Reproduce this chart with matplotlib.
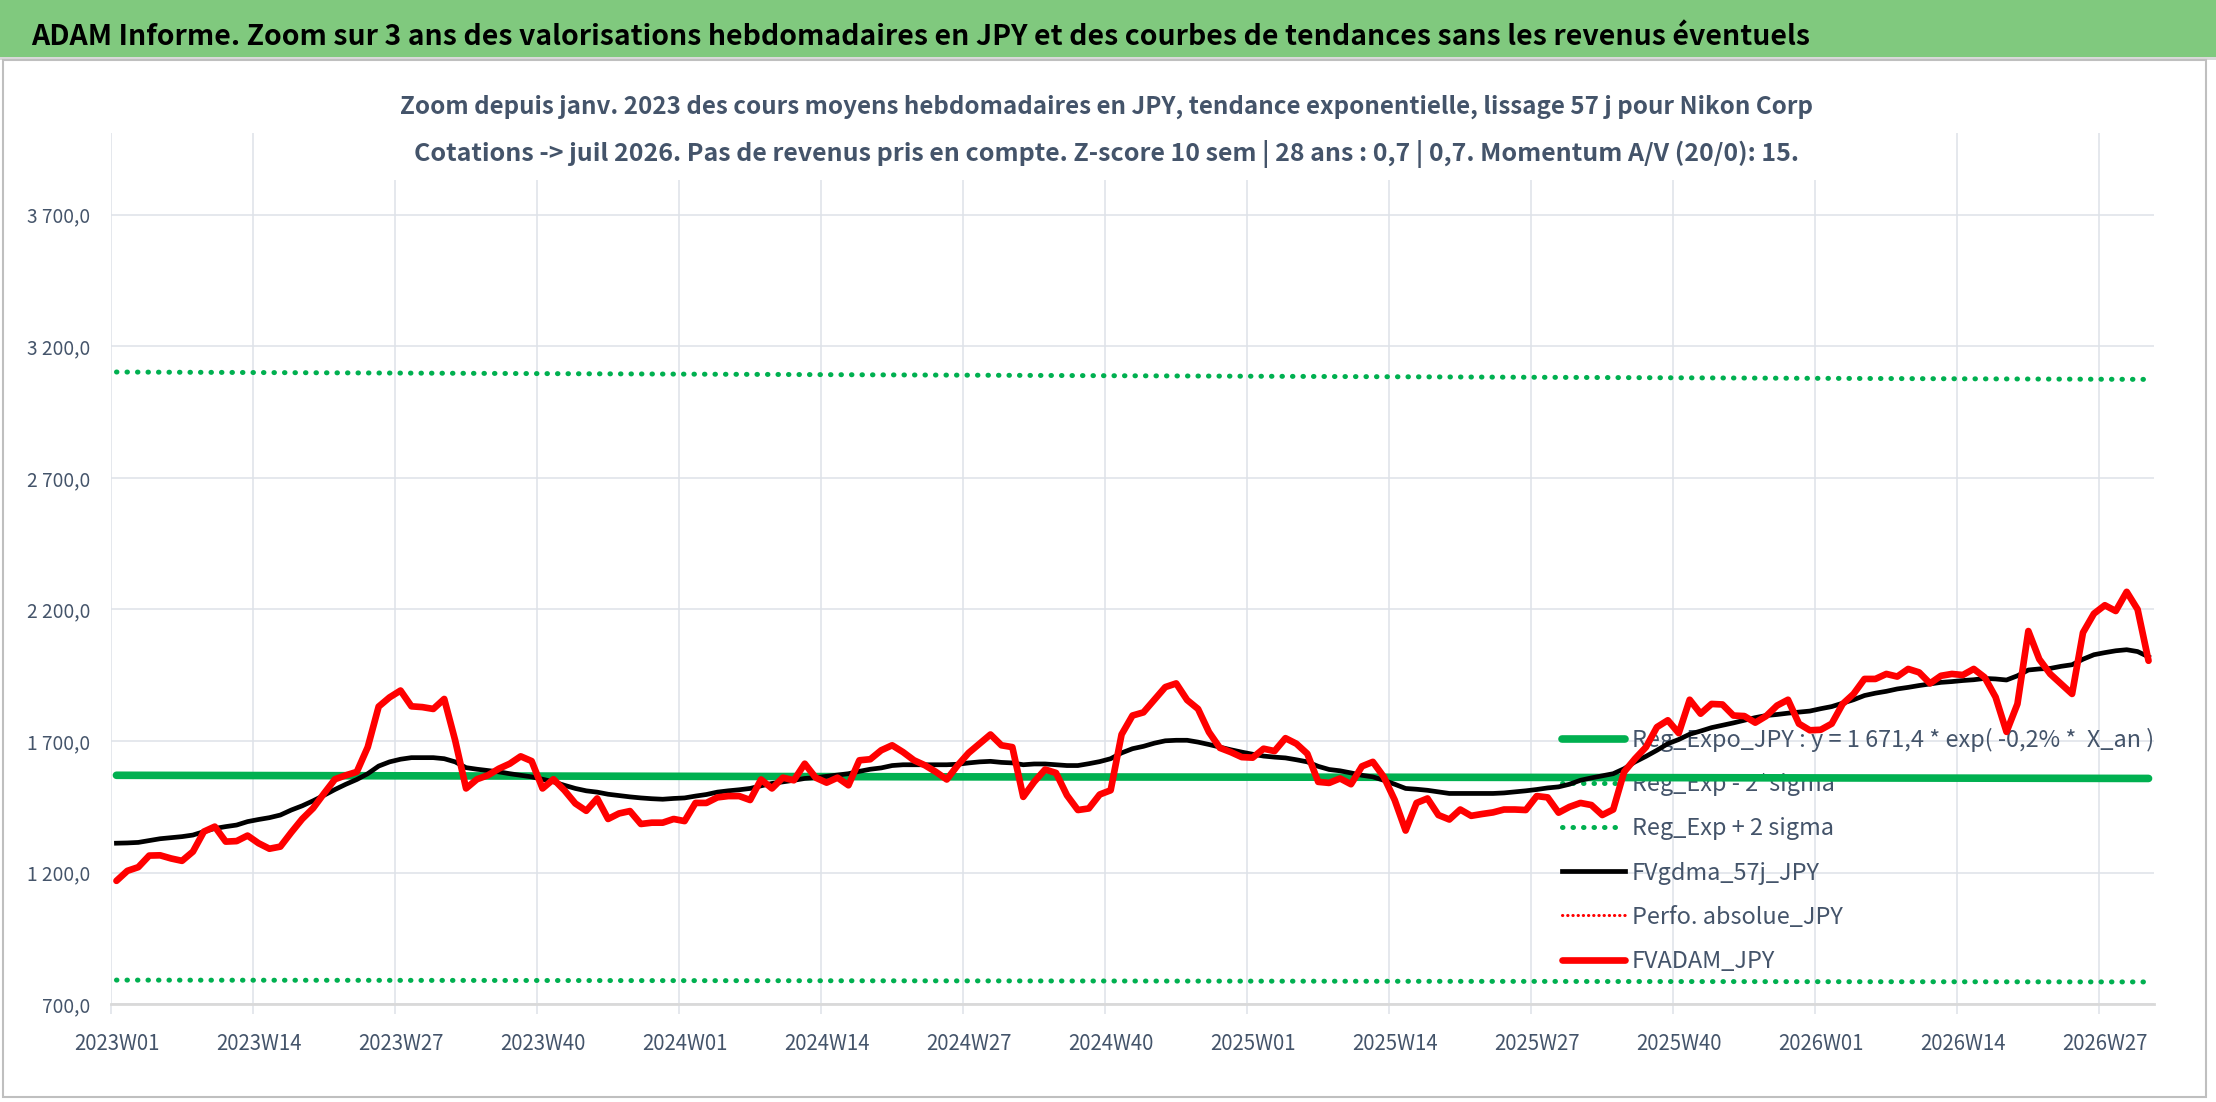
import matplotlib
matplotlib.use("Agg")
import matplotlib.pyplot as plt
from matplotlib.patches import Rectangle
from matplotlib.ticker import FixedLocator, FuncFormatter

# Noto Sans CJK latin glyphs are narrow, close to Calibri
plt.rcParams['font.family'] = ['Noto Sans CJK JP', 'DejaVu Sans']

# weekly categories 2023W01 .. 2026W31
weeks = [f"{y}W{w:02d}" for y in (2023, 2024, 2025) for w in range(1, 53)] + \
        [f"2026W{w:02d}" for w in range(1, 32)]

fvadam = [1169, 1207, 1221, 1265, 1266, 1254, 1245, 1280, 1356, 1375,
          1318, 1320, 1341, 1312, 1291, 1299, 1353, 1404, 1445, 1501,
          1555, 1570, 1583, 1677, 1831, 1866, 1892, 1832, 1829, 1822,
          1860, 1703, 1520, 1555, 1570, 1595, 1614, 1642, 1624, 1520,
          1555, 1513, 1463, 1435, 1482, 1404, 1425, 1434, 1385, 1390,
          1390, 1404, 1396, 1465, 1465, 1486, 1491, 1491, 1476, 1554,
          1520, 1561, 1551, 1614, 1561, 1542, 1561, 1532, 1627, 1631,
          1665, 1684, 1658, 1627, 1608, 1583, 1554, 1608, 1655, 1690,
          1725, 1684, 1677, 1488, 1545, 1592, 1579, 1494, 1438, 1444,
          1497, 1513, 1725, 1797, 1809, 1857, 1905, 1919, 1856, 1822,
          1734, 1674, 1658, 1639, 1637, 1671, 1662, 1711, 1690, 1652,
          1545, 1541, 1558, 1536, 1604, 1621, 1564, 1476, 1360, 1465,
          1482, 1419, 1402, 1440, 1416, 1423, 1429, 1440, 1440, 1438,
          1491, 1486, 1428, 1450, 1465, 1457, 1419, 1440, 1583, 1633,
          1677, 1753, 1779, 1730, 1857, 1804, 1841, 1839, 1797, 1795,
          1770, 1795, 1835, 1857, 1766, 1741, 1743, 1766, 1841, 1879,
          1936, 1936, 1955, 1945, 1974, 1961, 1919, 1948, 1955, 1951,
          1974, 1942, 1867, 1735, 1841, 2118, 2011, 1955, 1917, 1879,
          2112, 2184, 2216, 2194, 2267, 2200, 2005]

fvgdma = [1312, 1313, 1315, 1322, 1329, 1333, 1337, 1343, 1356, 1368,
          1375, 1381, 1394, 1402, 1409, 1419, 1438, 1454, 1473, 1494,
          1516, 1536, 1554, 1576, 1605, 1621, 1631, 1637, 1637, 1637,
          1633, 1621, 1599, 1593, 1588, 1583, 1576, 1570, 1564, 1555,
          1545, 1532, 1520, 1511, 1506, 1498, 1493, 1488, 1484, 1481,
          1479, 1482, 1484, 1491, 1497, 1506, 1511, 1515, 1520, 1530,
          1539, 1545, 1551, 1558, 1561, 1566, 1571, 1576, 1585, 1593,
          1598, 1607, 1610, 1610, 1610, 1610, 1610, 1612, 1617, 1621,
          1623, 1619, 1617, 1610, 1613, 1613, 1610, 1607, 1607, 1614,
          1622, 1633, 1655, 1671, 1680, 1692, 1701, 1703, 1703, 1696,
          1687, 1677, 1667, 1658, 1650, 1643, 1639, 1636, 1629, 1621,
          1604, 1592, 1587, 1579, 1570, 1564, 1551, 1536, 1520, 1517,
          1513, 1507, 1501, 1501, 1501, 1501, 1501, 1503, 1507, 1511,
          1516, 1522, 1526, 1536, 1551, 1560, 1568, 1576, 1595, 1621,
          1642, 1665, 1690, 1706, 1726, 1738, 1751, 1760, 1769, 1779,
          1789, 1797, 1801, 1806, 1810, 1814, 1823, 1831, 1844, 1857,
          1873, 1882, 1889, 1898, 1904, 1911, 1917, 1923, 1926, 1930,
          1933, 1938, 1936, 1932, 1948, 1970, 1974, 1976, 1984, 1990,
          2011, 2028, 2036, 2043, 2047, 2040, 2020]

# regression + bands, read at a few categories
reg_weeks = ["2023W01", "2023W27", "2024W01", "2024W27", "2025W01", "2025W27", "2026W01", "2026W31"]
reg_expo = [1570, 1568, 1566, 1564, 1563, 1562, 1560, 1558]
reg_minus = [792, 791, 790, 789, 788, 787, 786, 785]
reg_plus = [3102, 3098, 3094, 3090, 3086, 3082, 3078, 3074]

tick_labels = ["2023W01", "2023W14", "2023W27", "2023W40", "2024W01", "2024W14", "2024W27",
               "2024W40", "2025W01", "2025W14", "2025W27", "2025W40", "2026W01", "2026W14",
               "2026W27"]
y_ticks = [700, 1200, 1700, 2200, 2700, 3200, 3700]

TXT = '#44546A'
W, H = 2216, 1102
fig = plt.figure(figsize=(W / 100, H / 100), dpi=100)
rend = fig.canvas.get_renderer()


def fit(txt, width_px):
    # scale font so the text has the same width as in the reference
    w = txt.get_window_extent(renderer=rend).width
    txt.set_fontsize(txt.get_fontsize() * width_px / w)


def size_for(s, width_px, **kw):
    t = fig.text(0, 0, s, fontsize=20, **kw)
    fit(t, width_px)
    fs = t.get_fontsize()
    t.remove()
    return fs


# header band
fig.patches.append(Rectangle((0, 1 - 57 / H), 1, 57 / H, transform=fig.transFigure,
                             facecolor='#80C97E', edgecolor='none', zorder=0))
fig.patches.append(Rectangle((0, 1 - 60 / H), 1, 3 / H, transform=fig.transFigure,
                             facecolor='#D9D9D9', edgecolor='none', zorder=0))
fig.patches.append(Rectangle((3 / W, 5 / H), 2203 / W, 1 - 65 / H, transform=fig.transFigure,
                             facecolor='none', edgecolor='#BFBFBF', lw=1.5, zorder=0))
hdr = fig.text(31 / W, 1 - 45 / H,
               "ADAM Informe. Zoom sur 3 ans des valorisations hebdomadaires en JPY et des courbes de tendances sans les revenus éventuels",
               fontsize=24, fontweight='bold', color='black', ha='left', va='baseline')
fit(hdr, 1775)

ax = fig.add_axes([111 / W, 97.7 / H, (2154 - 111) / W, (1004.3 - 133) / H])
ax.set_zorder(1)

idx = {w: i for i, w in enumerate(weeks)}
xr = [idx[w] for w in reg_weeks]
x = list(range(len(fvadam)))

ax.plot(xr, reg_expo, color='#00B050', lw=5.5, solid_capstyle='round', zorder=4,
        label='Reg_Expo_JPY : y = 1 671,4 * exp( -0,2% *  X_an )')
ax.plot(xr, reg_minus, color='#00B050', lw=3.6, ls=(0, (0.1, 2.0)), dash_capstyle='round',
        zorder=4, label='Reg_Exp - 2*sigma')
ax.plot(xr, reg_plus, color='#00B050', lw=3.6, ls=(0, (0.1, 2.0)), dash_capstyle='round',
        zorder=4, label='Reg_Exp + 2 sigma')
ax.plot(x, fvgdma, color='black', lw=3.4, solid_joinstyle='round', zorder=5,
        label='FVgdma_57j_JPY')
ax.plot([], [], color='#FF0000', lw=2.2, ls=(0, (0.1, 1.6)), dash_capstyle='round',
        label='Perfo. absolue_JPY')
ax.plot(x, fvadam, color='#FF0000', lw=4.8, solid_joinstyle='round', solid_capstyle='round',
        zorder=6, label='FVADAM_JPY')

ax.set_xlim(-0.5, len(weeks) - 0.5)
ax.set_ylim(700, 4010)

tick_pos = [idx[t] for t in tick_labels]
ax.xaxis.set_major_locator(FixedLocator(tick_pos))
ax.set_xticklabels(tick_labels)
ax.xaxis.set_minor_locator(FixedLocator([p - 0.5 for p in tick_pos]))
ax.tick_params(axis='x', which='major', length=0, pad=21,
               labelsize=size_for("2023W01", 86), labelcolor=TXT)
ax.tick_params(axis='x', which='minor', length=7, width=1.1, color='#DEE2E8')
ax.grid(axis='x', which='minor', color='#DEE2E8', lw=1.1)

ax.yaxis.set_major_locator(FixedLocator(y_ticks))
ax.yaxis.set_major_formatter(FuncFormatter(lambda v, p: f"{v:,.1f}".replace(',', ' ').replace('.', ',')))
ax.tick_params(axis='y', length=0, pad=15, labelsize=size_for("3 700,0", 63), labelcolor=TXT)
ax.grid(axis='y', color='#DEE2E8', lw=1.1)
ax.set_axisbelow(True)

for s in ['top', 'right', 'left']:
    ax.spines[s].set_visible(False)
ax.spines['bottom'].set_color('#D9D9D9')
ax.spines['bottom'].set_linewidth(2)

leg_fs = size_for('Reg_Expo_JPY : y = 1 671,4 * exp( -0,2% *  X_an )', 522)
leg = ax.legend(loc='upper left', bbox_to_anchor=(1562 / W, 1 - 728 / H),
                bbox_transform=fig.transFigure, frameon=False, fontsize=leg_fs,
                labelcolor=TXT, handlelength=63 / (leg_fs * 100 / 72),
                handletextpad=7 / (leg_fs * 100 / 72),
                labelspacing=0.9, borderpad=0, borderaxespad=0)
leg.set_zorder(3)

# chart title over the plot area
fig.patches.append(Rectangle((385 / W, 1 - 180 / H), (1828 - 385) / W, 102 / H,
                             transform=fig.transFigure, facecolor='white',
                             edgecolor='none', zorder=2))
t1 = fig.text(1106 / W, 1 - 114 / H,
              "Zoom depuis janv. 2023 des cours moyens hebdomadaires en JPY, tendance exponentielle, lissage 57 j pour Nikon Corp",
              fontsize=17.5, fontweight='bold', color=TXT, ha='center', va='baseline', zorder=3)
fit(t1, 1413)
t2 = fig.text(1106 / W, 1 - 161 / H,
              "Cotations -> juil 2026. Pas de revenus pris en compte. Z-score 10 sem | 28 ans : 0,7 | 0,7. Momentum A/V (20/0): 15.",
              fontsize=17.5, fontweight='bold', color=TXT, ha='center', va='baseline', zorder=3)
fit(t2, 1385)

fig.savefig('out.png', dpi=100)
